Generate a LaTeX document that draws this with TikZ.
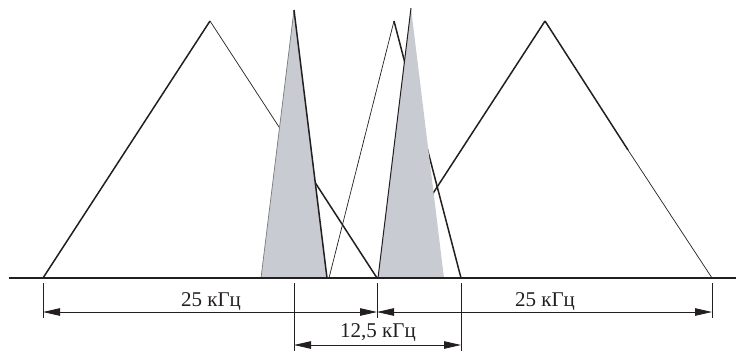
\documentclass[tikz,border=0pt]{standalone}
\usepackage{fontspec}
\setmainfont{Liberation Serif}
\usetikzlibrary{arrows.meta}
\definecolor{bandgray}{RGB}{200,204,210}
\definecolor{inkdark}{HTML}{231F20}

\begin{document}
\begin{tikzpicture}[
    x=1pt, y=-1pt,
    every node/.style={font=\fontsize{21}{23}\selectfont, text=inkdark, inner sep=0pt},
    axisline/.style={draw=inkdark, line width=2pt},
    heavyside/.style={draw=inkdark, line width=1.5pt},
    lightside/.style={draw=inkdark, line width=0.7pt},
    band/.style={fill=bandgray},
    extline/.style={draw=inkdark, line width=0.8pt},
    dimline/.style={{Triangle[length=17pt, width=7.5pt]}-{Triangle[length=17pt, width=7.5pt]}, draw=inkdark, line width=0.8pt},
    lbl/.style={anchor=base}
]
    \useasboundingbox (0,0) rectangle (736,351);

    \coordinate (axisL) at (9,278);
    \coordinate (axisR) at (736,278);

    \coordinate (leftA) at (43,278);
    \coordinate (leftTop) at (210,21);
    \coordinate (leftMid) at (294,150);
    \coordinate (leftB) at (377,278);

    \coordinate (midA) at (329,278);
    \coordinate (midTop) at (394,21);
    \coordinate (midB) at (461,278);

    \coordinate (rightA) at (378,278);
    \coordinate (rightTop) at (545,21);
    \coordinate (rightMid) at (628,150);
    \coordinate (rightB) at (712,278);

    \coordinate (bandOneL) at (261,278);
    \coordinate (bandOneTop) at (294,10);
    \coordinate (bandOneR) at (327,278);

    \coordinate (bandTwoL) at (378,278);
    \coordinate (bandTwoTop) at (411,8);
    \coordinate (bandTwoR) at (444,278);

    \draw[heavyside] (leftA) -- (leftTop);
    \draw[lightside] (leftTop) -- (leftMid);
    \draw[heavyside] (leftMid) -- (leftB);

    \draw[lightside] (midA) -- (midTop);
    \draw[heavyside] (midTop) -- (midB);

    \draw[heavyside] (rightA) -- (rightTop);
    \draw[heavyside] (rightTop) -- (rightMid);
    \draw[lightside] (rightMid) -- (rightB);

    \fill[band] (bandOneL) -- (bandOneTop) -- (bandOneR) -- cycle;
    \draw[lightside, draw=inkdark!60] (bandOneL) -- (bandOneTop);
    \draw[heavyside] (bandOneTop) -- (bandOneR);

    \fill[band] (bandTwoL) -- (bandTwoTop) -- (bandTwoR) -- cycle;
    \draw[heavyside, line width=1pt] (bandTwoL) -- (bandTwoTop);

    \draw[axisline] (axisL) -- (axisR);

    \coordinate (extA) at (43,318);
    \coordinate (extB) at (294,351);
    \coordinate (extC) at (377,318);
    \coordinate (extD) at (461,351);
    \coordinate (extE) at (712,318);
    \draw[extline] (43,283) -- (extA);
    \draw[extline] (294,283) -- (extB);
    \draw[extline] (377,283) -- (extC);
    \draw[extline] (461,283) -- (extD);
    \draw[extline] (712,283) -- (extE);

    \coordinate (dimAL) at (43,312);
    \coordinate (dimAR) at (377,312);
    \coordinate (dimBR) at (712,312);
    \coordinate (dimCL) at (294,345);
    \coordinate (dimCR) at (461,345);
    \draw[dimline] (dimAL) -- (dimAR);
    \draw[dimline] (dimAR) -- (dimBR);
    \draw[dimline] (dimCL) -- (dimCR);

    \node[lbl] (lblLeft) at (211,306) {25 кГц};
    \node[lbl] (lblRight) at (545,306) {25 кГц};
    \node[lbl] (lblMid) at (378,337) {12,5 кГц};
\end{tikzpicture}
\end{document}
